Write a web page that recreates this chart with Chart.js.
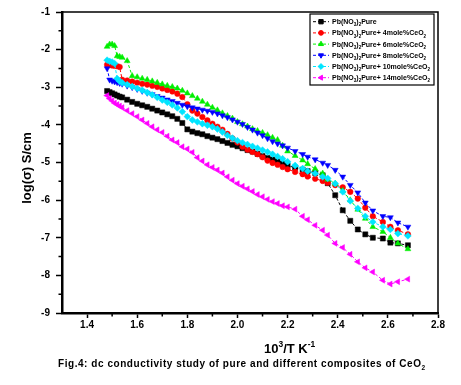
<!DOCTYPE html>
<html>
<head>
<meta charset="utf-8">
<script src="https://cdn.jsdelivr.net/npm/chart.js@4.4.1/dist/chart.umd.min.js"></script>
<style>
  html, body { margin: 0; padding: 0; background: #fff; }
  canvas { display: block; }
</style>
</head>
<body>
<canvas id="chart" width="461" height="385"></canvas>
<script>
// 10^3/T values (K^-1), shared by every series
const xValues = [1.48, 1.49, 1.50, 1.51, 1.52, 1.53, 1.54,
  1.56, 1.58, 1.60, 1.62, 1.64, 1.66, 1.68, 1.70, 1.72, 1.74, 1.76, 1.78, 1.80, 1.82, 1.84, 1.86, 1.88, 1.90,
  1.92, 1.94, 1.96, 1.98, 2.00, 2.02, 2.04, 2.06, 2.08, 2.10, 2.12, 2.14, 2.16, 2.18, 2.20,
  2.23, 2.26, 2.28, 2.31, 2.34, 2.36, 2.39, 2.42, 2.45, 2.48, 2.51, 2.54, 2.58, 2.61, 2.64, 2.68];

// log(sigma) for each composition
const pureY = [-3.10, -3.13, -3.16, -3.19, -3.22, -3.25, -3.27,
  -3.33, -3.39, -3.44, -3.48, -3.52, -3.57, -3.62, -3.67, -3.72, -3.77, -3.84, -3.95, -4.12, -4.18, -4.22, -4.25, -4.30, -4.34,
  -4.38, -4.43, -4.48, -4.53, -4.57, -4.62, -4.67, -4.71, -4.77, -4.83, -4.88, -4.92, -4.97, -5.03, -5.08,
  -5.14, -5.19, -5.23, -5.28, -5.34, -5.55, -5.87, -6.27, -6.55, -6.78, -6.91, -7.00, -7.02, -7.13, -7.15, -7.20];
const ceo4Y = [-2.40, -2.41, -2.42, -2.43, -2.44, -2.46, -2.80,
  -2.82, -2.85, -2.88, -2.91, -2.93, -2.96, -2.99, -3.03, -3.07, -3.11, -3.17, -3.26, -3.45, -3.62, -3.70, -3.79, -3.88, -3.97,
  -4.05, -4.13, -4.24, -4.36, -4.47, -4.58, -4.66, -4.72, -4.78, -4.86, -4.95, -5.01, -5.06, -5.12, -5.18,
  -5.25, -5.31, -5.37, -5.43, -5.49, -5.54, -5.60, -5.66, -5.78, -5.96, -6.20, -6.43, -6.58, -6.71, -6.80, -6.91];
const ceo6Y = [-1.92, -1.86, -1.86, -1.90, -2.17, -2.19, -2.21,
  -2.30, -2.70, -2.73, -2.77, -2.80, -2.84, -2.88, -2.92, -2.96, -2.99, -3.03, -3.09, -3.16, -3.23, -3.30, -3.38, -3.46, -3.54,
  -3.61, -3.69, -3.76, -3.83, -3.92, -3.98, -4.04, -4.11, -4.16, -4.21, -4.27, -4.34, -4.40, -4.55, -4.70,
  -4.82, -4.94, -5.04, -5.17, -5.29, -5.45, -5.56, -5.75, -6.00, -6.25, -6.49, -6.71, -6.84, -7.00, -7.15, -7.30];
const ceo8Y = [-2.50, -2.80, -2.83, -2.85, -2.87, -2.89, -2.91,
  -2.96, -3.00, -3.05, -3.10, -3.15, -3.19, -3.24, -3.28, -3.33, -3.37, -3.42, -3.47, -3.51, -3.54, -3.57, -3.60, -3.63, -3.66,
  -3.70, -3.75, -3.80, -3.86, -3.92, -3.98, -4.06, -4.13, -4.21, -4.28, -4.36, -4.44, -4.50, -4.55, -4.61,
  -4.70, -4.78, -4.85, -4.92, -5.01, -5.07, -5.20, -5.38, -5.60, -5.80, -6.07, -6.28, -6.43, -6.46, -6.60, -6.71];
const ceo10Y = [-2.28, -2.31, -2.33, -2.37, -2.77, -2.84, -2.88,
  -2.93, -2.98, -3.03, -3.08, -3.14, -3.20, -3.27, -3.34, -3.40, -3.47, -3.55, -3.65, -3.78, -3.87, -3.92, -3.97, -4.01, -4.05,
  -4.11, -4.19, -4.28, -4.35, -4.42, -4.47, -4.52, -4.57, -4.62, -4.67, -4.72, -4.78, -4.84, -4.90, -4.98,
  -5.08, -5.16, -5.23, -5.29, -5.38, -5.42, -5.56, -5.78, -6.02, -6.22, -6.43, -6.58, -6.71, -6.78, -6.89, -6.95];
const ceo14Y = [-3.22, -3.30, -3.36, -3.42, -3.46, -3.50, -3.54,
  -3.62, -3.70, -3.78, -3.87, -3.96, -4.05, -4.13, -4.20, -4.30, -4.40, -4.47, -4.58, -4.64, -4.73, -4.87, -4.96, -5.06, -5.13,
  -5.20, -5.28, -5.38, -5.47, -5.56, -5.63, -5.70, -5.77, -5.85, -5.91, -5.98, -6.04, -6.09, -6.15, -6.18,
  -6.24, -6.43, -6.52, -6.67, -6.80, -6.93, -7.15, -7.26, -7.44, -7.64, -7.80, -7.91, -8.13, -8.23, -8.17, -8.10];

// legend labels, "_x" = subscript
const seriesNames = [
  'Pb(NO_3)_2Pure',
  'Pb(NO_3)_2Pure+ 4mole%CeO_2',
  'Pb(NO_3)_2Pure+ 6mole%CeO_2',
  'Pb(NO_3)_2Pure+ 8mole%CeO_2',
  'Pb(NO_3)_2Pure+ 10mole%CeO_2',
  'Pb(NO_3)_2Pure+ 14mole%CeO_2'
];

const xTicks = [1.4, 1.6, 1.8, 2.0, 2.2, 2.4, 2.6, 2.8];
const xMinorTicks = [1.5, 1.7, 1.9, 2.1, 2.3, 2.5, 2.7];
const yTicks = [-1, -2, -3, -4, -5, -6, -7, -8, -9];
const yMinorTicks = [-1.5, -2.5, -3.5, -4.5, -5.5, -6.5, -7.5, -8.5];

const FONT = "'Liberation Sans', Arial, sans-serif";

function pts(ys) {
  return ys.map((y, i) => ({ x: xValues[i], y: y }));
}

// text with _x subscripts and ^x / ^{..} superscripts
function drawRich(ctx, text, x, y, size, spacing) {
  const parts = text.split(/(_\{[^}]*\}|_.|\^\{[^}]*\}|\^.)/).filter(s => s);
  let cx = x;
  parts.forEach(p => {
    let s = p, sz = size, dy = 0;
    if (p[0] === '_' || p[0] === '^') {
      s = p.slice(1).replace(/[{}]/g, '');
      sz = size * 0.65;
      dy = p[0] === '_' ? size * 0.3 : -size * 0.45;
    }
    ctx.font = 'bold ' + sz + 'px ' + FONT;
    for (const ch of s) {
      ctx.fillText(ch, cx, y + dy);
      cx += ctx.measureText(ch).width + (spacing || 0);
    }
  });
  return cx - x;
}

const datasets = [
  { data: pts(pureY), color: '#000000', pointStyle: 'rect', radius: 3.6, rotation: 0 },
  { data: pts(ceo4Y), color: '#ff0000', pointStyle: 'circle', radius: 2.8, rotation: 0 },
  { data: pts(ceo6Y), color: '#00ee00', pointStyle: 'triangle', radius: 3.4, rotation: 0 },
  { data: pts(ceo8Y), color: '#0000ff', pointStyle: 'triangle', radius: 3.4, rotation: 180 },
  { data: pts(ceo10Y), color: '#00e5ff', pointStyle: 'rectRot', radius: 3.4, rotation: 0 },
  { data: pts(ceo14Y), color: '#ff00ff', pointStyle: 'triangle', radius: 3.4, rotation: -90 }
].map((d, i) => ({
  label: seriesNames[i].replace(/_3/g, '\u2083').replace(/_2/g, '\u2082'),
  data: d.data,
  borderColor: d.color,
  backgroundColor: d.color,
  pointBackgroundColor: d.color,
  pointBorderColor: d.color,
  pointBorderWidth: 0.5,
  pointStyle: d.pointStyle,
  pointRadius: d.radius,
  pointRotation: d.rotation,
  borderWidth: 1,
  borderDash: [3, 2],
  tension: 0,
  order: 6 - i
}));

const decorPlugin = {
  id: 'decor',
  afterDraw(chart) {
    const ctx = chart.ctx;
    const a = chart.chartArea;
    const xs = chart.scales.x, ys = chart.scales.y;
    ctx.save();
    ctx.strokeStyle = '#000';
    ctx.fillStyle = '#000';

    // top and right frame
    ctx.lineWidth = 1.5;
    ctx.beginPath();
    ctx.moveTo(a.left, a.top);
    ctx.lineTo(a.right, a.top);
    ctx.lineTo(a.right, a.bottom);
    ctx.stroke();

    // minor ticks
    ctx.lineWidth = 1.5;
    ctx.beginPath();
    xMinorTicks.forEach(v => {
      const px = xs.getPixelForValue(v);
      ctx.moveTo(px, a.bottom);
      ctx.lineTo(px, a.bottom + 3.5);
    });
    yMinorTicks.forEach(v => {
      const py = ys.getPixelForValue(v);
      ctx.moveTo(a.left, py);
      ctx.lineTo(a.left - 3.5, py);
    });
    ctx.stroke();

    // legend
    const lx = 310, ly = 14, lw = 124, lh = 71;
    ctx.lineWidth = 1.2;
    ctx.fillStyle = '#fff';
    ctx.fillRect(lx, ly, lw, lh);
    ctx.strokeRect(lx, ly, lw, lh);
    chart.data.datasets.forEach((ds, i) => {
      const cy = 21.7 + i * 11.2;
      ctx.strokeStyle = ds.borderColor;
      ctx.lineWidth = 1;
      ctx.setLineDash([3, 2]);
      ctx.beginPath();
      ctx.moveTo(313, cy);
      ctx.lineTo(329, cy);
      ctx.stroke();
      ctx.setLineDash([]);
      ctx.fillStyle = ds.backgroundColor;
      Chart.helpers.drawPoint(ctx, {
        pointStyle: ds.pointStyle,
        rotation: ds.pointRotation,
        radius: ds.pointRadius * 0.85,
        borderWidth: 0.5
      }, 321, cy);
      ctx.fillStyle = '#000';
      ctx.textBaseline = 'alphabetic';
      ctx.textAlign = 'left';
      drawRich(ctx, seriesNames[i], 332, cy + 2.5, 7, 0);
    });

    // axis titles
    ctx.fillStyle = '#000';
    ctx.textAlign = 'left';
    ctx.textBaseline = 'alphabetic';
    drawRich(ctx, '10^3/T K^{-1}', 264, 353, 13, 0);

    ctx.save();
    ctx.translate(31, 168);
    ctx.rotate(-Math.PI / 2);
    ctx.textAlign = 'center';
    ctx.font = 'bold 13px ' + FONT;
    ctx.fillText('log(\u03c3) S/cm', 0, 0);
    ctx.restore();

    // caption
    ctx.textAlign = 'left';
    drawRich(ctx, 'Fig.4: dc conductivity study of pure and different composites of CeO_2', 58, 367, 10, 0.55);
    ctx.restore();
  }
};

new Chart(document.getElementById('chart'), {
  type: 'line',
  data: { datasets: datasets },
  options: {
    responsive: false,
    animation: false,
    devicePixelRatio: 1,
    layout: { padding: { left: 0, top: 12, right: 23, bottom: 0 } },
    plugins: { legend: { display: false }, tooltip: { enabled: false } },
    scales: {
      x: {
        type: 'linear',
        min: 1.3,
        max: 2.8,
        afterBuildTicks: s => { s.ticks = xTicks.map(v => ({ value: v })); },
        afterFit: s => { s.height = 72; },
        ticks: {
          color: '#000',
          font: { family: FONT, size: 10, weight: 'bold' },
          padding: 1,
          maxRotation: 0,
          callback: v => v.toFixed(1)
        },
        grid: { drawOnChartArea: false, tickLength: 5, tickColor: '#000', tickWidth: 1.5 },
        border: { color: '#000', width: 2.5 }
      },
      y: {
        type: 'linear',
        min: -9,
        max: -1,
        afterBuildTicks: s => { s.ticks = yTicks.map(v => ({ value: v })); },
        afterFit: s => { s.width = 62; },
        ticks: {
          color: '#000',
          font: { family: FONT, size: 10, weight: 'bold' },
          padding: 6,
          callback: v => String(v)
        },
        grid: { drawOnChartArea: false, tickLength: 6, tickColor: '#000', tickWidth: 1.5 },
        border: { color: '#000', width: 2.5 }
      }
    }
  },
  plugins: [decorPlugin]
});
</script>
</body>
</html>
